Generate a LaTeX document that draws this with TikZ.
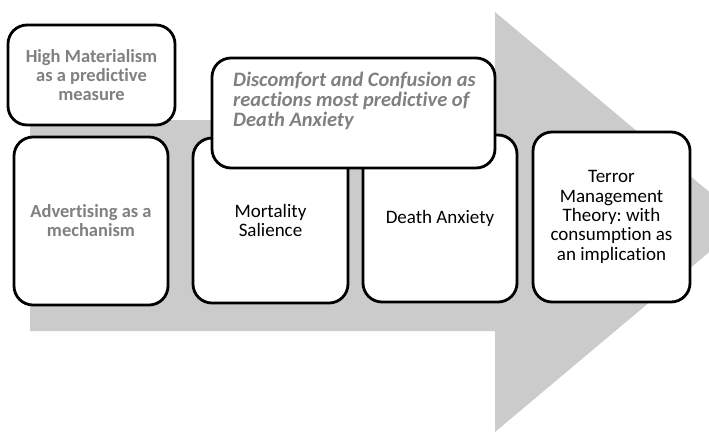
\documentclass[tikz,border=0pt]{standalone}
\usepackage{fontspec}
\setmainfont{Carlito}[Ligatures={NoCommon}]
\frenchspacing
\begin{document}
\begin{tikzpicture}[x=1pt,y=-1pt,
  box/.style={draw=black, line width=2.8pt, fill=white, rounded corners=19pt, rectangle, inner sep=0pt},
  gtxt/.style={text=txtgray, font=\fontsize{18.5}{19}\selectfont\bfseries, align=center},
  btxt/.style={text=black, font=\fontsize{19}{19.3}\selectfont, align=center}]
\definecolor{arrowgray}{RGB}{203,203,203}
\definecolor{txtgray}{RGB}{128,128,128}
\useasboundingbox (0,0) rectangle (709,432);
\begin{scope}
\clip (0,0) rectangle (709,432);
\fill[arrowgray] (30,120) -- (495,120) -- (495,12) -- (745,222) -- (495,432) -- (495,331) -- (30,331) -- cycle;
\end{scope}
\node[box, minimum width=167pt, minimum height=100pt, gtxt] (hm) at (91.5,75) {High Materialism\\as a predictive\\measure};
\node[box, minimum width=154pt, minimum height=168pt, gtxt] (adv) at (91,221) {Advertising as a\\mechanism};
\node[box, minimum width=155pt, minimum height=165pt, btxt] (ms) at (270.5,220.5) {Mortality\\Salience};
\node[box, minimum width=154pt, minimum height=167pt, btxt] (da) at (440,218.5) {Death Anxiety};
\node[box, minimum width=157pt, minimum height=170pt, btxt] (tmt) at (611.5,217) {Terror\\Management\\Theory: with\\consumption as\\an implication};
\node[box, minimum width=283pt, minimum height=110pt] (dc) at (353.5,113) {};
\node[anchor=north west, inner sep=0pt, text=txtgray, font=\fontsize{20.5}{20}\selectfont\bfseries\itshape, align=left] (dct) at (233,72) {Discomfort and Confusion as\\reactions most predictive of\\Death Anxiety};
\end{tikzpicture}
\end{document}
